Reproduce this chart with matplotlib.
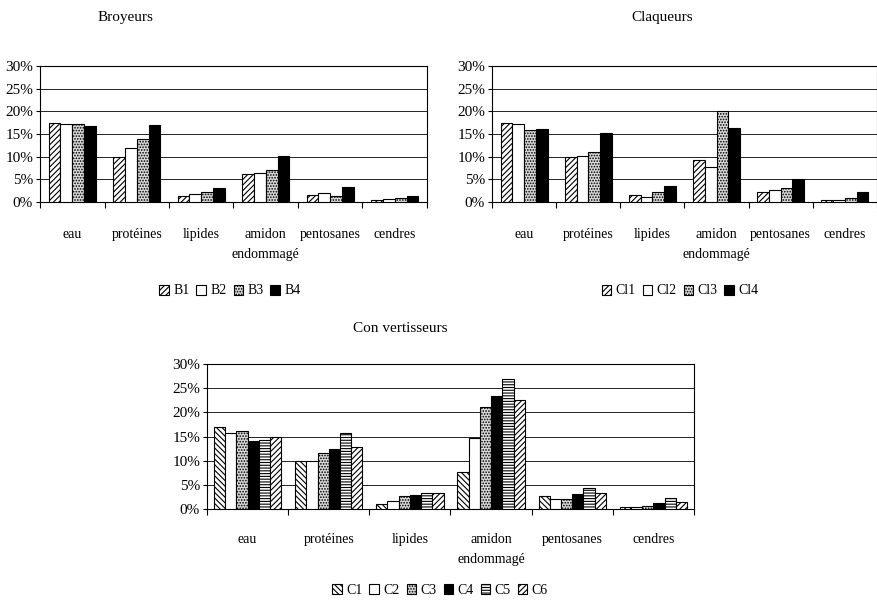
import matplotlib
matplotlib.use("Agg")
import matplotlib.pyplot as plt
import numpy as np

plt.rcParams['font.family'] = ['Liberation Serif', 'DejaVu Serif']
plt.rcParams['hatch.linewidth'] = 0.8

categories = ['eau', 'protéines', 'lipides', 'amidon\nendommagé', 'pentosanes', 'cendres']

broyeurs_labels = ['B1', 'B2', 'B3', 'B4']
broyeurs = [
    [17.5, 10.0, 1.3, 6.2, 1.5, 0.4],
    [17.3, 12.0, 1.7, 6.5, 2.0, 0.6],
    [17.2, 13.8, 2.2, 7.0, 1.3, 0.8],
    [16.7, 17.0, 3.0, 10.2, 3.3, 1.3],
]

claqueurs_labels = ['Cl1', 'Cl2', 'Cl3', 'Cl4']
claqueurs = [
    [17.4, 10.0, 1.6, 9.3, 2.3, 0.5],
    [17.2, 10.1, 1.2, 7.8, 2.6, 0.4],
    [15.8, 11.0, 2.3, 20.0, 3.1, 0.9],
    [16.0, 15.2, 3.6, 16.3, 5.0, 2.2],
]

conv_labels = ['C1', 'C2', 'C3', 'C4', 'C5', 'C6']
convertisseurs = [
    [17.0, 10.0, 1.1, 7.6, 2.6, 0.4],
    [15.8, 10.0, 1.6, 14.6, 2.1, 0.4],
    [16.1, 11.5, 2.7, 21.1, 2.1, 0.7],
    [14.0, 12.5, 3.0, 23.3, 3.2, 1.2],
    [14.3, 15.8, 3.3, 26.8, 4.4, 2.2],
    [15.0, 12.9, 3.4, 22.5, 3.4, 1.5],
]

# (facecolor, hatch) per series
style4 = [('white', '//////'), ('white', ''), ('#d8d8d8', '......'), ('black', '')]
style6 = [('white', '\\\\\\\\\\\\'), ('white', ''), ('#d8d8d8', '......'),
          ('black', ''), ('white', '------'), ('white', '//////')]


def draw(ax, series, labels, styles, group_w, title, title_xy, legend_xy, ncol, pad):
    x = np.arange(len(categories))
    n = len(series)
    w = group_w / n
    handles = []
    for i, vals in enumerate(series):
        fc, h = styles[i]
        b = ax.bar(x - group_w / 2 + w * (i + 0.5), vals, w, color=fc, hatch=h,
                   edgecolor='black', linewidth=0.8, label=labels[i], zorder=3)
        handles.append(b)
    ax.set_xlim(-0.5, len(categories) - 0.5)
    ax.set_ylim(0, 30)
    ax.set_yticks(range(0, 31, 5))
    ax.set_yticklabels([f'{v}%' for v in range(0, 31, 5)], fontsize=11)
    ax.yaxis.grid(True, color='black', linewidth=0.6, zorder=0)
    ax.set_xticks(x)
    ax.set_xticklabels(categories, fontsize=10, linespacing=1.7)
    ax.set_xticks(np.arange(-0.5, len(categories)), minor=True)
    ax.tick_params(axis='x', which='major', length=0, pad=pad)
    ax.tick_params(axis='x', which='minor', length=4, width=0.8)
    ax.tick_params(axis='y', length=3, width=0.8, pad=2)
    for s in ax.spines.values():
        s.set_linewidth(0.8)
    fig.text(title_xy[0], title_xy[1], title, ha='center', va='center', fontsize=11)
    fig.legend(handles=handles, labels=labels, loc='center', ncol=ncol,
               bbox_to_anchor=legend_xy, frameon=False, fontsize=10,
               handlelength=0.7, handleheight=0.7, handletextpad=0.3,
               columnspacing=0.5)


fig = plt.figure(figsize=(8.78, 6.03), dpi=100)
W, H = 878, 603


def axes_px(x0, y0, x1, y1):
    return fig.add_axes([x0 / W, 1 - y1 / H, (x1 - x0) / W, (y1 - y0) / H])


ax1 = axes_px(40, 66, 427, 202)
draw(ax1, broyeurs, broyeurs_labels, style4, 0.73, 'Broyeurs',
     (125 / W, 1 - 17 / H), (230 / W, 1 - 291 / H), 4, 19)

ax2 = axes_px(492, 66, 877, 202)
draw(ax2, claqueurs, claqueurs_labels, style4, 0.73, 'Claqueurs',
     (662 / W, 1 - 17 / H), (680 / W, 1 - 291 / H), 4, 19)

ax3 = axes_px(207, 364, 694, 509)
draw(ax3, convertisseurs, conv_labels, style6, 0.83, 'Con vertisseurs',
     (400 / W, 1 - 329 / H), (440 / W, 1 - 590 / H), 6, 17)

fig.savefig('out.png', dpi=100)
